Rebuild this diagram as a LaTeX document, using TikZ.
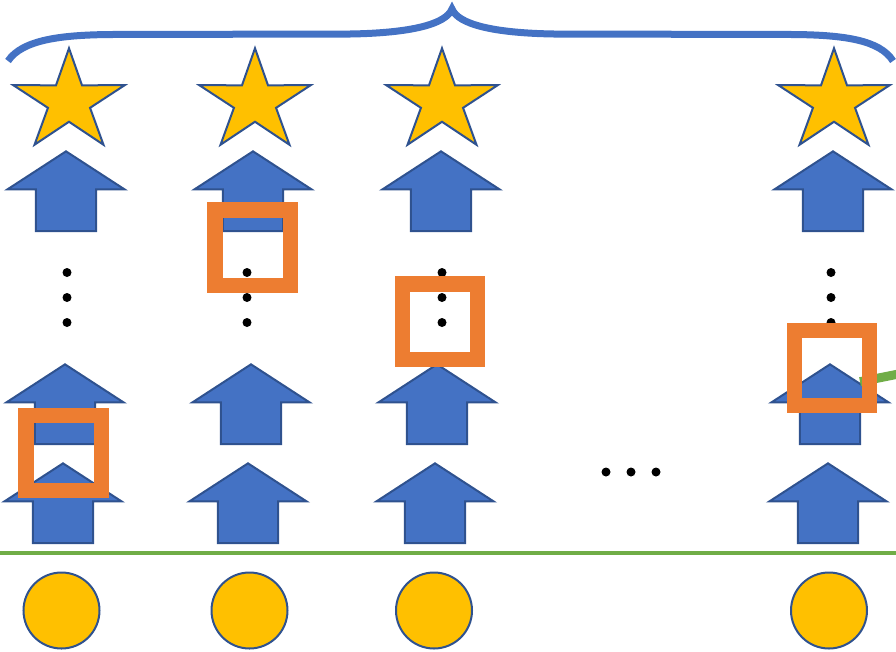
\documentclass[tikz,border=0pt]{standalone}
\usetikzlibrary{shapes.geometric,shapes.arrows,positioning}

\definecolor{arrowBlue}{HTML}{4472C4}
\definecolor{outlineBlue}{HTML}{2F528F}
\definecolor{goldYellow}{HTML}{FFC000}
\definecolor{markOrange}{HTML}{ED7D31}
\definecolor{leafGreen}{HTML}{70AD47}

\begin{document}
\begin{tikzpicture}[
            x=0.75pt, y=-0.75pt,
            starNode/.style={
                    star,
                    star points=5,
                    star point ratio=2.65,
                    draw=outlineBlue,
                    fill=goldYellow,
                    line width=1.5pt,
                    minimum size=80pt,
                    inner sep=0pt,
                    xscale=1.1,
                    transform shape
                },
            upArrow/.style={
                    single arrow,
                    shape border rotate=90,
                    anchor=tail,
                    draw=outlineBlue,
                    fill=arrowBlue,
                    line width=1.5pt,
                    minimum height=56.5pt,
                    single arrow head extend=21.5pt,
                    single arrow tip angle=114,
                    inner sep=21.8pt
                },
            dotNode/.style={
                    circle,
                    fill=black,
                    minimum size=6.75pt,
                    inner sep=0pt
                },
            roundNode/.style={
                    circle,
                    draw=outlineBlue,
                    fill=goldYellow,
                    line width=1.5pt,
                    minimum size=57pt,
                    inner sep=0pt
                },
            markBox/.style={
                    rectangle,
                    draw=markOrange,
                    line width=11.6pt,
                    minimum size=56.6pt,
                    inner sep=0pt
                },
            braceLine/.style={
                    draw=arrowBlue,
                    line width=5.25pt
                },
            greenLine/.style={
                    draw=leafGreen,
                    line width=3pt
                }
            ]

            \useasboundingbox (0,0) rectangle (896,651);

            % 1. Llave superior
            \draw[braceLine] (8,61) .. controls (22,40) and (60,35) .. (110,34.5) -- (350,34)
            .. controls (412,33) and (446,24) .. (452,9)
            .. controls (458,24) and (492,33) .. (554,34) -- (794,34.5)
            .. controls (844,35) and (880,40) .. (893,61);

            % 2. Estrellas
            \node[starNode] (starA) at (69,101.6) {};
            \node[starNode] (starB) at (255,101.6) {};
            \node[starNode] (starC) at (442,101.6) {};
            \node[starNode] (starD) at (834,101.6) {};

            % 3. Flechas superiores
            \node[upArrow] (arrTopA) at (66,232) {};
            \node[upArrow] (arrTopB) at (253,232) {};
            \node[upArrow] (arrTopC) at (441,232) {};
            \node[upArrow] (arrTopD) at (833,232) {};

            % 4. Puntos verticales
            \node[dotNode] (dotA1) at (67,272.5) {};
            \node[dotNode] (dotA2) at (67,297.5) {};
            \node[dotNode] (dotA3) at (67,322.5) {};
            \node[dotNode] (dotB1) at (247,272.5) {};
            \node[dotNode] (dotB2) at (247,297.5) {};
            \node[dotNode] (dotB3) at (247,322.5) {};
            \node[dotNode] (dotC1) at (442,272.5) {};
            \node[dotNode] (dotC2) at (442,297.5) {};
            \node[dotNode] (dotC3) at (442,322.5) {};
            \node[dotNode] (dotD1) at (831,272.5) {};
            \node[dotNode] (dotD2) at (831,297.5) {};
            \node[dotNode] (dotD3) at (831,322.5) {};

            % 5. Flechas intermedias
            \node[upArrow] (arrMidA) at (65,445) {};
            \node[upArrow] (arrMidB) at (251,445) {};
            \node[upArrow] (arrMidC) at (437,445) {};
            \node[upArrow] (arrMidD) at (830,445) {};

            % 6. Flechas inferiores
            \node[upArrow] (arrLowA) at (63,544) {};
            \node[upArrow] (arrLowB) at (248,544) {};
            \node[upArrow] (arrLowC) at (435,544) {};
            \node[upArrow] (arrLowD) at (828,544) {};

            % 7. Puntos horizontales
            \node[dotNode] (dotH1) at (606,472) {};
            \node[dotNode] (dotH2) at (631,472) {};
            \node[dotNode] (dotH3) at (656,472) {};

            % 8. Lineas verdes
            \coordinate (greenL) at (0,553);
            \coordinate (greenR) at (896,553);
            \draw[greenLine] (greenL) -- (greenR);

            \coordinate (sideIn) at (860,381.7);
            \coordinate (sideOut) at (900,373.7);
            \draw[greenLine, line width=6.75pt] (sideIn) -- (sideOut);

            % 9. Circulos
            \node[roundNode] (circA) at (61.5,610.5) {};
            \node[roundNode] (circB) at (249.5,610.5) {};
            \node[roundNode] (circC) at (434,610.5) {};
            \node[roundNode] (circD) at (829,610.5) {};

            % 10. Recuadros naranjas
            \node[markBox] (markB) at (252.5,247.5) {};
            \node[markBox] (markC) at (440,321.5) {};
            \node[markBox] (markD) at (832,368) {};
            \node[markBox] (markA) at (63.5,453) {};

        \end{tikzpicture}
\end{document}
